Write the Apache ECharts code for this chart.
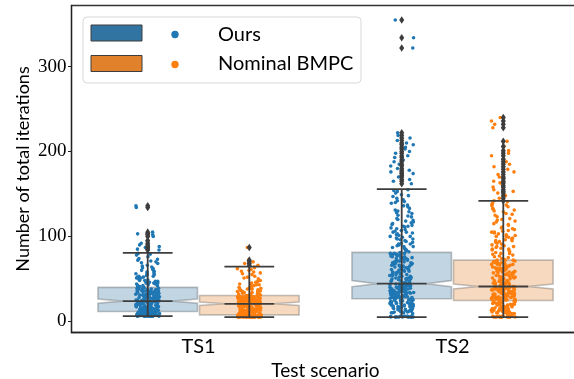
<!DOCTYPE html>
<html>
<head>
<meta charset="utf-8">
<script src="https://cdn.jsdelivr.net/npm/echarts@6/dist/echarts.min.js"></script>
<style>
  html, body { margin: 0; background: #fff; }
  #chart { width: 574px; height: 379px; }
</style>
</head>
<body>
<div id="chart"></div>
<script>
// categories and methods
const scenarios = ['TS1', 'TS2'];
const methods = ['Ours', 'Nominal BMPC'];
const yTicks = [0, 100, 200, 300];

// box stats: [whisker low, Q1, median, Q3, whisker high]
const oursStats = [[6, 11.5, 23.8, 40, 80.6], [5, 26.5, 44.3, 81.2, 155.8]];
const nominalStats = [[5, 7.6, 20.6, 30.4, 64.5], [5, 24.5, 41, 72, 141.8]];
// half height of the notch around the median
const oursNotch = [2.4, 3.6];
const nominalNotch = [2.0, 2.8];

// iterations per run (estimated from the strip plot)
const oursTS1 = [
  6,6,6,6,6,6,6,7,7,7,7,7,7,7,8,8,8,8,8,8,8,9,9,9,9,9,9,9,10,10,10,10,10,10,10,11,11,11,11,11,11,6,6,7,8,9,10,11,6,7,8,9,10,6,7,9,11,8,6,7,8,9,10,11,7,
  12,12,12,13,13,13,13,14,14,14,14,15,15,15,15,16,16,16,16,17,17,17,17,18,18,18,18,19,19,19,19,20,20,20,20,21,21,21,21,22,22,22,22,23,23,23,23,24,24,24,12,13,14,15,16,17,18,19,20,21,22,23,14,17,20,
  25,25,25,26,26,26,27,27,27,28,28,28,29,29,29,30,30,30,31,31,31,32,32,32,33,33,33,34,34,34,35,35,35,36,36,36,37,37,37,38,38,38,39,39,39,40,40,25,27,29,31,33,35,37,39,26,28,30,32,34,36,38,33,29,35,
  41,42,42,43,44,45,45,46,47,48,48,49,50,51,52,52,53,54,55,56,57,58,59,60,42,44,46,47,50,53,55,57,45,49,51,
  61,62,63,64,65,66,68,69,70,71,72,73,74,76,78,79,80,
  84,85,87,88,90,92,95,100,102,103,105,134,136
];
const nominalTS1 = [
  5,5,5,5,5,5,5,5,5,5,5,5,5,6,6,6,6,6,6,6,6,6,6,6,7,7,7,7,7,7,7,7,7,7,5,6,7,5,5,6,7,5,6,7,5,6,7,5,6,7,5,6,7,6,5,7,6,5,6,7,5,6,7,6,5,
  8,8,8,8,9,9,9,9,10,10,10,10,11,11,11,11,12,12,12,12,13,13,13,13,14,14,14,14,15,15,15,15,16,16,16,16,17,17,17,17,18,18,18,18,19,19,19,19,20,20,20,8,10,12,14,16,18,20,9,11,13,15,17,19,12,
  21,21,21,22,22,22,22,23,23,23,23,24,24,24,24,25,25,25,25,26,26,26,26,27,27,27,27,28,28,28,28,29,29,29,29,30,30,30,21,22,23,24,25,26,27,28,29,30,22,24,26,28,30,23,25,27,29,21,26,24,28,25,27,23,29,
  31,32,32,33,34,35,35,36,37,38,38,39,40,41,42,42,43,44,45,31,33,34,36,37,39,40,43,32,35,38,
  46,47,48,50,51,52,53,55,56,57,58,59,60,61,62,63,64,
  66,68,70,72,87
];
const oursTS2 = [
  5,5,5,5,5,5,5,5,5,5,6,6,6,6,6,6,5,6,5,6,
  9,10,10,11,11,12,12,13,13,14,14,15,15,16,16,17,17,18,18,19,19,20,20,21,21,22,22,23,23,24,24,25,25,26,26,10,12,14,16,18,20,22,24,26,11,13,15,17,19,21,23,25,13,17,21,25,
  27,27,28,28,29,29,30,30,31,31,32,32,33,33,34,34,35,35,36,36,37,37,38,38,39,39,40,40,41,41,42,42,43,43,44,44,27,28,29,30,31,32,33,34,35,36,37,38,39,40,41,42,43,44,28,30,32,34,36,38,40,42,44,29,31,33,35,37,39,41,43,30,34,38,
  45,46,47,48,49,50,51,52,53,54,55,56,57,58,59,60,61,62,63,64,65,66,67,68,69,70,71,72,73,74,75,76,77,78,79,80,81,46,48,50,52,54,56,58,60,62,64,66,68,70,72,74,76,78,80,47,51,55,59,63,67,71,75,79,49,53,57,61,65,69,73,77,45,50,55,60,65,70,75,80,
  82,84,85,87,88,90,91,93,94,96,97,99,100,102,103,105,106,108,109,111,112,114,115,117,118,120,83,86,89,92,95,98,101,104,107,110,113,116,119,88,97,105,112,91,100,
  121,123,125,127,129,131,133,135,137,139,141,143,145,147,149,151,153,155,124,130,136,142,148,154,128,140,
  162,165,167,170,172,174,176,178,180,183,185,188,190,193,195,198,200,203,205,208,210,213,216,219,222,
  322,334,355
];
const nominalTS2 = [
  5,5,5,5,5,5,5,5,5,5,6,6,6,6,6,6,6,5,6,5,
  8,9,9,10,10,11,11,12,12,13,13,14,14,15,15,16,16,17,17,18,18,19,19,20,20,21,21,22,22,23,23,24,24,9,11,13,15,17,19,21,23,10,12,14,16,18,20,22,24,12,16,20,24,14,18,
  25,25,26,26,27,27,28,28,29,29,30,30,31,31,32,32,33,33,34,34,35,35,36,36,37,37,38,38,39,39,40,40,41,41,25,26,27,28,29,30,31,32,33,34,35,36,37,38,39,40,41,26,28,30,32,34,36,38,40,27,29,31,33,35,37,39,41,28,32,36,40,30,34,38,
  42,43,44,45,46,47,48,49,50,51,52,53,54,55,56,57,58,59,60,61,62,63,64,65,66,67,68,69,70,71,72,43,45,47,49,51,53,55,57,59,61,63,65,67,69,71,44,48,52,56,60,64,68,72,46,50,54,58,62,66,70,42,47,52,57,62,67,72,45,55,65,50,60,70,58,63,
  73,75,76,78,79,81,82,84,85,87,88,90,91,93,94,96,97,99,100,102,103,105,106,108,110,74,77,80,83,86,89,92,95,98,101,104,107,109,80,90,100,85,95,105,88,
  111,113,115,117,119,121,123,125,127,129,131,133,135,137,139,141,114,120,126,132,138,118,130,136,142,
  145,148,151,153,155,158,160,163,165,168,170,173,176,179,182,185,188,191,195,198,201,206,212,228,232,236,240
];
const oursValues = [oursTS1, oursTS2];
const nominalValues = [nominalTS1, nominalTS2];

const pointColors = ['#1f77b4', '#ff7f0e'];
const patchColors = ['#3274a1', '#e1812c'];
const faceColors = ['rgba(50,116,161,0.3)', 'rgba(225,129,44,0.3)'];
const edgeColor = 'rgba(61,61,61,0.3)';
const lineColor = '#3d3d3d';
const sans = 'Lato';

// hue offset (fraction of band), box half width, jitter half width
const DODGE = 0.2;
const HALF_W = 0.196;
const JITTER = 0.047;

// deterministic strip jitter in [-1, 1]
const jit = k => {
  const s = Math.sin(k * 127.1 + 311.7) * 43758.5453;
  return (s - Math.floor(s)) * 2 - 1;
};

function boxFace(stats, notch, side, color) {
  return {
    type: 'custom',
    z: 1,
    data: stats.map((s, i) => [i, ...s, notch[i]]),
    encode: { x: 0, y: [1, 2, 3, 4, 5] },
    renderItem: (params, api) => {
      const i = api.value(0);
      const band = api.size([1, 0])[0];
      const cx = api.coord([i, 0])[0] + side * DODGE * band;
      const hw = HALF_W * band;
      const y = v => api.coord([i, v])[1];
      const med = api.value(3);
      const n = api.value(6);
      const yq1 = y(api.value(2)), yq3 = y(api.value(4));
      const ym = y(med), ylo = y(med - n), yhi = y(med + n);
      return {
        type: 'polygon',
        shape: {
          points: [
            [cx - hw, yq1], [cx + hw, yq1], [cx + hw, ylo], [cx + hw / 2, ym], [cx + hw, yhi],
            [cx + hw, yq3], [cx - hw, yq3], [cx - hw, yhi], [cx - hw / 2, ym], [cx - hw, ylo]
          ]
        },
        style: { fill: color, stroke: edgeColor, lineWidth: 1.6 }
      };
    }
  };
}

function boxLines(stats, side) {
  return {
    type: 'custom',
    z: 3,
    data: stats.map((s, i) => [i, ...s]),
    encode: { x: 0, y: [1, 5] },
    renderItem: (params, api) => {
      const i = api.value(0);
      const band = api.size([1, 0])[0];
      const cx = api.coord([i, 0])[0] + side * DODGE * band;
      const q = HALF_W * band / 2;
      const y = v => api.coord([i, v])[1];
      const ylow = y(api.value(1)), ymed = y(api.value(3)), yhigh = y(api.value(5));
      const st = { stroke: lineColor, lineWidth: 1.8 };
      return {
        type: 'group',
        children: [
          { type: 'line', shape: { x1: cx, y1: ylow, x2: cx, y2: yhigh }, style: st },
          { type: 'line', shape: { x1: cx - q, y1: ylow, x2: cx + q, y2: ylow }, style: st },
          { type: 'line', shape: { x1: cx - q, y1: yhigh, x2: cx + q, y2: yhigh }, style: st },
          { type: 'line', shape: { x1: cx - q, y1: ymed, x2: cx + q, y2: ymed }, style: st }
        ]
      };
    }
  };
}

function strip(values, side, color, name) {
  const data = [];
  values.forEach((vals, i) => vals.forEach((v, k) => data.push([i, v, k + i * 1000 + side * 5000])));
  return {
    type: 'custom',
    name: name,
    z: 2,
    data: data,
    encode: { x: 0, y: 1 },
    renderItem: (params, api) => {
      const band = api.size([1, 0])[0];
      const p = api.coord([api.value(0), api.value(1)]);
      const x = p[0] + side * DODGE * band + jit(api.value(2)) * JITTER * band;
      return { type: 'circle', shape: { cx: x, cy: p[1], r: 1.8 }, style: { fill: color } };
    }
  };
}

function fliers(values, stats, side) {
  const data = [];
  values.forEach((vals, i) => vals.forEach(v => {
    if (v > stats[i][4] || v < stats[i][0]) data.push([i, v]);
  }));
  return {
    type: 'custom',
    z: 4,
    data: data,
    encode: { x: 0, y: 1 },
    renderItem: (params, api) => {
      const band = api.size([1, 0])[0];
      const p = api.coord([api.value(0), api.value(1)]);
      const x = p[0] + side * DODGE * band;
      const w = 2.5, h = 3.8;
      return {
        type: 'polygon',
        shape: { points: [[x, p[1] - h], [x + w, p[1]], [x, p[1] + h], [x - w, p[1]]] },
        style: { fill: lineColor }
      };
    }
  };
}

const chart = echarts.init(document.getElementById('chart'));
chart.setOption({
  animation: false,
  backgroundColor: '#fff',
  grid: {
    left: 71.5, top: 5.5, width: 508, height: 327,
    outerBoundsMode: 'none', containLabel: false,
    show: true, borderColor: '#333', borderWidth: 1.3, backgroundColor: 'transparent'
  },
  xAxis: {
    type: 'category',
    data: scenarios,
    name: 'Test scenario',
    nameLocation: 'middle',
    nameGap: 19,
    nameTextStyle: { fontFamily: sans, fontSize: 19, color: '#000' },
    axisLine: { onZero: false, lineStyle: { color: '#222', width: 1.3 } },
    axisTick: { alignWithLabel: true, length: 3.5, lineStyle: { color: '#222' } },
    axisLabel: { fontFamily: sans, fontSize: 20, color: '#000', margin: 4 },
    splitLine: { show: false }
  },
  yAxis: {
    type: 'value',
    min: -13.2,
    max: 372,
    name: 'Number of total iterations',
    nameLocation: 'middle',
    nameMoveOverlap: false,
    nameGap: 39,
    nameTextStyle: { fontFamily: sans, fontSize: 18, color: '#000' },
    axisLine: { show: true, lineStyle: { color: '#222', width: 1.3 } },
    axisTick: { show: true, length: 3.5, customValues: yTicks, lineStyle: { color: '#222' } },
    axisLabel: {
      color: '#000', margin: 5, customValues: yTicks,
      formatter: v => '{n|' + v + '}',
      rich: { n: { fontFamily: 'Liberation Serif', fontSize: 19, color: '#000' } }
    },
    splitLine: { show: false }
  },
  series: [
    boxFace(oursStats, oursNotch, -1, faceColors[0]),
    boxFace(nominalStats, nominalNotch, 1, faceColors[1]),
    strip(oursValues, -1, pointColors[0], methods[0]),
    strip(nominalValues, 1, pointColors[1], methods[1]),
    boxLines(oursStats, -1),
    boxLines(nominalStats, 1),
    fliers(oursValues, oursStats, -1),
    fliers(nominalValues, nominalStats, 1)
  ],
  graphic: [
    { type: 'rect', z: 100, shape: { x: 83, y: 17, width: 278, height: 66, r: 4 },
      style: { fill: 'rgba(255,255,255,0.8)', stroke: '#d8d8d8', lineWidth: 1 } },
    { type: 'rect', z: 101, shape: { x: 91, y: 25, width: 51, height: 16 },
      style: { fill: patchColors[0], stroke: lineColor, lineWidth: 1 } },
    { type: 'rect', z: 101, shape: { x: 91, y: 55.5, width: 51, height: 16 },
      style: { fill: patchColors[1], stroke: lineColor, lineWidth: 1 } },
    { type: 'circle', z: 101, shape: { cx: 175, cy: 34.5, r: 3.7 }, style: { fill: pointColors[0] } },
    { type: 'circle', z: 101, shape: { cx: 175, cy: 64.5, r: 3.7 }, style: { fill: pointColors[1] } },
    { type: 'text', z: 101, x: 218, y: 35,
      style: { text: methods[0], font: '20px Lato', fill: '#000', verticalAlign: 'middle' } },
    { type: 'text', z: 101, x: 218, y: 64,
      style: { text: methods[1], font: '20px Lato', fill: '#000', verticalAlign: 'middle' } }
  ]
});
</script>
</body>
</html>
